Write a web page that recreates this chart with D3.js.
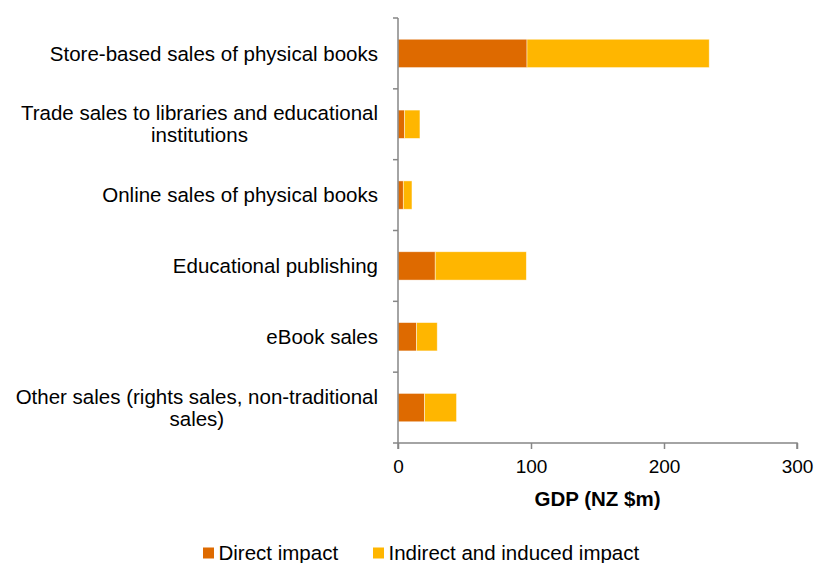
<!DOCTYPE html>
<html>
<head>
<meta charset="utf-8">
<script src="https://cdn.jsdelivr.net/npm/d3@7"></script>
<style>
  body { margin: 0; background: #fff; }
  svg text { font-family: "Liberation Sans", Arial, sans-serif; fill: #000; }
</style>
</head>
<body>
<div id="chart"></div>
<script>
// Categories, top to bottom (multi-line labels split by "|")
const categories = [
    "Store-based sales of physical books",
    "Trade sales to libraries and educational|institutions",
    "Online sales of physical books",
    "Educational publishing",
    "eBook sales",
    "Other sales (rights sales, non-traditional|sales)"
];
const directImpact = [97, 5, 4, 28, 14, 20];
const indirectImpact = [137, 11.5, 6.5, 68.5, 15.5, 24];
const seriesNames = ["Direct impact", "Indirect and induced impact"];
const xTicks = [0, 100, 200, 300];

const colors = ["#DE6A00", "#FFB600"];

const width = 816, height = 563;
const margin = {top: 18, right: 19, bottom: 120, left: 398};
const innerW = width - margin.left - margin.right;
const innerH = height - margin.top - margin.bottom;

const svg = d3.select("#chart").append("svg")
    .attr("width", width)
    .attr("height", height);

const chart = svg.append("g")
    .attr("transform", `translate(${margin.left},${margin.top})`);

const xScale = d3.scaleLinear()
    .domain([0, 300])
    .range([0, innerW]);

const yScale = d3.scaleBand()
    .domain(categories)
    .range([0, innerH])
    .paddingInner(0.6)
    .paddingOuter(0.3);

// Stack the two series
const rows = categories.map((c, i) => ({ key: c, direct: directImpact[i], indirect: indirectImpact[i] }));
const stacked = d3.stack().keys(["direct", "indirect"])(rows);

chart.selectAll("g.series")
    .data(stacked)
    .join("g")
        .attr("class", "series")
        .attr("fill", (d, i) => colors[i])
    .selectAll("rect")
    .data((d) => d)
    .join("rect")
        .attr("x", (d) => xScale(d[0]))
        .attr("y", (d) => yScale(d.data.key))
        .attr("width", (d) => xScale(d[1]) - xScale(d[0]))
        .attr("height", yScale.bandwidth())
        .attr("stroke", "#fff")
        .attr("stroke-opacity", 0.6)
        .style("stroke-width", "0.75px");

// Category boundary ticks on y-axis
const step = innerH / categories.length;
const yAxis = chart.append("g");
yAxis.append("line")
    .attr("x1", 0).attr("x2", 0)
    .attr("y1", 0).attr("y2", innerH)
    .attr("stroke", "#868686")
    .style("stroke-width", "1.5px");
yAxis.selectAll("line.tick")
    .data(d3.range(categories.length + 1))
    .join("line")
        .attr("class", "tick")
        .attr("x1", -5).attr("x2", 0)
        .attr("y1", (d) => d * step).attr("y2", (d) => d * step)
        .attr("stroke", "#868686")
        .style("stroke-width", "1.5px");

// Category labels, right aligned block, centered lines
const labelRight = -20;
const lineH = 22;
categories.forEach((c) => {
    const lines = c.split("|");
    const cy = yScale(c) + yScale.bandwidth() / 2;
    const t = chart.append("text")
        .style("font-size", "20.5px")
        .style("text-anchor", "middle");
    lines.forEach((l, i) => {
        t.append("tspan")
            .attr("x", 0)
            .attr("y", cy + (i - (lines.length - 1) / 2) * lineH)
            .attr("dy", "0.35em")
            .text(l);
    });
    const bb = t.node().getBBox();
    t.attr("transform", `translate(${labelRight - bb.width / 2},0)`);
});

// X-axis
const xAxis = chart.append("g")
    .attr("transform", `translate(0,${innerH})`)
    .call(d3.axisBottom(xScale).tickValues(xTicks).tickSize(6).tickPadding(11).tickFormat(d3.format("d")));
xAxis.selectAll(".domain, .tick line")
    .attr("stroke", "#868686")
    .style("stroke-width", "1.5px");
xAxis.select(".domain").attr("d", `M0,0V6M0,0H${innerW}V6`);
xAxis.selectAll("text")
    .style("font-size", "19px")
    .style("font-family", "'Liberation Sans', Arial, sans-serif")
    .attr("fill", "#000");

// X-axis title
chart.append("text")
    .text("GDP (NZ $m)")
    .attr("x", innerW / 2)
    .attr("y", innerH + 56)
    .attr("dy", "0.35em")
    .style("text-anchor", "middle")
    .style("font-size", "20.5px")
    .style("font-weight", "bold");

// Legend
const legend = svg.append("g")
    .attr("transform", "translate(203,553)");
const legendX = [0, 170];
seriesNames.forEach((name, i) => {
    const item = legend.append("g").attr("transform", `translate(${legendX[i]},0)`);
    item.append("rect")
        .attr("x", 0).attr("y", -5.5)
        .attr("width", 11).attr("height", 11)
        .attr("fill", colors[i]);
    item.append("text")
        .text(name)
        .attr("x", 15.5)
        .attr("y", 0)
        .attr("dy", "0.35em")
        .style("font-size", "20.5px");
});
</script>
</body>
</html>
